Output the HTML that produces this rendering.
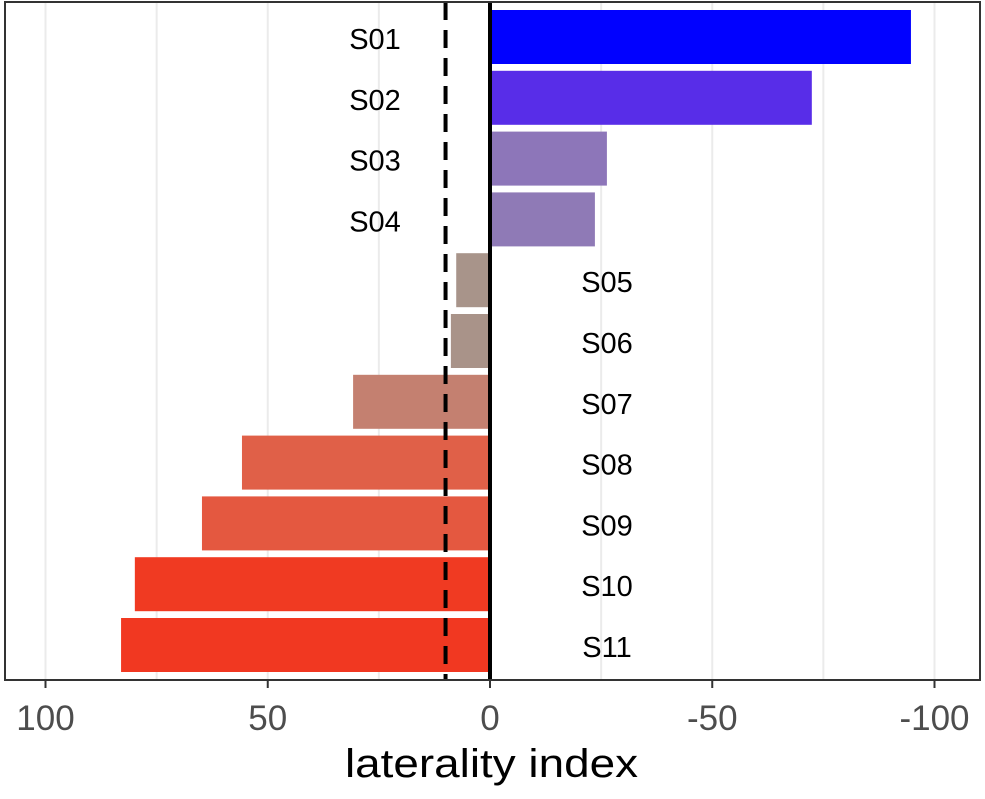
<!DOCTYPE html>
<html><head><meta charset="utf-8"><style>
body{margin:0;background:#fff;font-family:"Liberation Sans",Arial,sans-serif;}
</style></head><body>
<svg id="chart" width="985" height="794" xmlns="http://www.w3.org/2000/svg"></svg>
<script>
const subjects=["S01","S02","S03","S04","S05","S06","S07","S08","S09","S10","S11"];
const laterality=[-94.7,-72.4,-26.3,-23.6,7.6,8.8,30.8,55.8,64.8,79.9,83];
const tickValues=[100,50,0,-50,-100];
const tickLabels=["100","50","0","-50","-100"];
const gridValues=[100,75,50,25,0,-25,-50,-75,-100];
const thresholdValue=10;

const svg=document.getElementById('chart');
const NS='http://www.w3.org/2000/svg';
const L=5,R=980,T=2,B=680;
const x=v=>490-v*4.445;
const rowStep=60.8, y0=37;
const y=i=>y0+i*rowStep;
const stops=[[-100,[0,0,255]],[-95,[0,0,255]],[-72,[90,46,232]],[-25,[142,120,184]],[0,[165,150,145]],[8,[168,148,138]],[31,[196,128,112]],[56,[224,96,72]],[65,[228,88,64]],[80,[240,58,34]],[100,[246,44,28]]];
function color(v){
  for(let k=0;k<stops.length-1;k++){
    const [a,ca]=stops[k],[b,cb]=stops[k+1];
    if(v>=a&&v<=b){const t=(v-a)/(b-a);return 'rgb('+ca.map((c,j)=>Math.round(c+(cb[j]-c)*t)).join(',')+')';}
  }
  return 'rgb(128,128,128)';
}
function el(tag,attrs,parent){const e=document.createElementNS(NS,tag);for(const k in attrs)e.setAttribute(k,attrs[k]);(parent||svg).appendChild(e);return e;}

gridValues.forEach(v=>{
  const g=el('line',{x1:x(v),x2:x(v),y1:T,y2:B,stroke:'#ebebeb','stroke-width':2});
  
  
});
laterality.forEach((v,i)=>{
  const x1=Math.min(x(v),x(0)), w=Math.abs(x(v)-x(0));
  const r=el('rect',{x:x1,y:y(i)-27,width:w,height:54,fill:color(v)});
  
  
  const t=el('text',{x:v<0?375:607,y:y(i)+12,'text-anchor':'middle','font-size':29,fill:'#000'});
  t.textContent=subjects[i];
  
  
});
const d=el('line',{x1:x(thresholdValue),x2:x(thresholdValue),y1:T,y2:B,stroke:'#000','stroke-width':4,'stroke-dasharray':'18,10'});


const z=el('line',{x1:x(0),x2:x(0),y1:T,y2:B,stroke:'#000','stroke-width':4});


const p=el('rect',{x:L,y:T,width:R-L,height:B-T,fill:'none',stroke:'#333','stroke-width':2});


tickValues.forEach((v,i)=>{
  const tk=el('line',{x1:x(v),x2:x(v),y1:B,y2:B+8,stroke:'#333','stroke-width':2});
  
  
  const t=el('text',{x:x(v),y:730,'text-anchor':'middle','font-size':35,fill:'#4d4d4d'});
  t.textContent=tickLabels[i];
  
  
});
const at=el('text',{x:345,y:777,'font-size':40,fill:'#000',textLength:293,lengthAdjust:'spacingAndGlyphs'});
at.textContent='laterality index';


</script>
</body></html>
